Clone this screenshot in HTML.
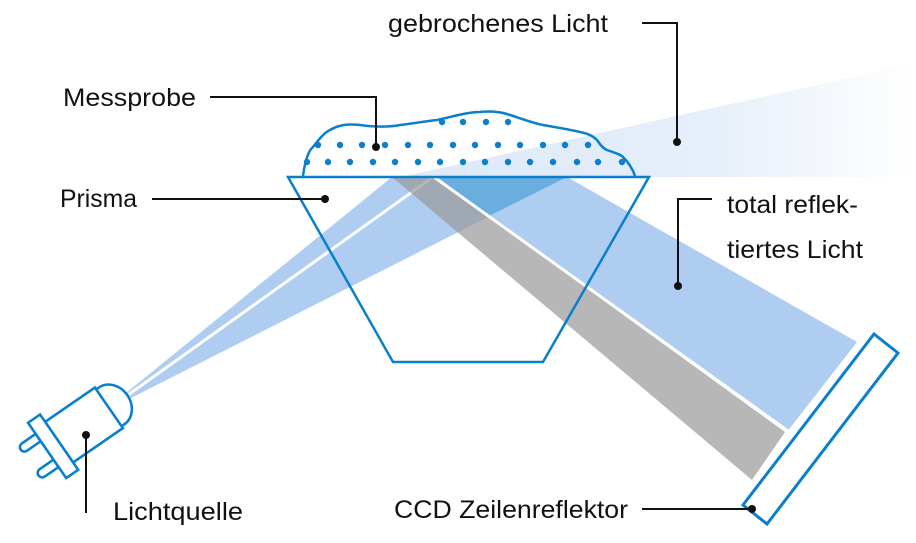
<!DOCTYPE html>
<html><head><meta charset="utf-8"><style>
html,body{margin:0;padding:0;background:#fff;}
svg{display:block;}
text{font-family:"Liberation Sans",sans-serif;font-size:25px;fill:#111;}
</style></head><body>
<svg width="916" height="543" viewBox="0 0 916 543" xmlns="http://www.w3.org/2000/svg">
<defs>
<linearGradient id="pale" x1="401" y1="0" x2="916" y2="0" gradientUnits="userSpaceOnUse">
<stop offset="0" stop-color="#dce9f8"/><stop offset="0.6" stop-color="#e6effa"/><stop offset="1" stop-color="#ffffff"/>
</linearGradient>
</defs>
<polygon points="401,177 916,63 916,177" fill="url(#pale)"/>
<polygon points="126,393 392,177 567,177 131,398" fill="#aecdf0"/>
<polygon points="435,177 567,177 857,342 787,432" fill="#aecdf0"/>
<polygon points="435,177 567,177 489,216" fill="#6aaee0"/>
<line x1="128" y1="395" x2="433" y2="177" stroke="#fff" stroke-width="3"/>
<polygon points="392,177 433,177 785,432 752,480" fill="#999" fill-opacity="0.7"/>
<line x1="434" y1="177" x2="788" y2="431" stroke="#fff" stroke-width="3"/>
<polygon points="288,177 649,177 543,362 393,362" fill="none" stroke="#0a7fcc" stroke-width="2.5"/>
<path d="M303,176 C305,160 309,150 313,147 C320,138 325,132 330,130 C340,124 350,124 360,125 C375,127 390,127 400,125 C415,123 428,121 437,120 C455,116 468,112 480,112 C490,111 500,112 507,114 C520,118 532,123 543,125 C560,128 572,130 580,132 C590,134 594,137 597,140 C601,146 604,149 607,150 C615,153 620,154 623,157 C630,164 633,170 635,176" fill="none" stroke="#0a7fcc" stroke-width="2.5"/>
<g fill="#0a7fcc">
<circle cx="442" cy="122" r="3.2"/><circle cx="463" cy="122" r="3.2"/><circle cx="486" cy="122" r="3.2"/><circle cx="508" cy="122" r="3.2"/>
<circle cx="318" cy="145" r="3.2"/><circle cx="340" cy="145" r="3.2"/><circle cx="362" cy="145" r="3.2"/><circle cx="385" cy="145" r="3.2"/><circle cx="408" cy="145" r="3.2"/><circle cx="430" cy="145" r="3.2"/><circle cx="453" cy="145" r="3.2"/><circle cx="475" cy="145" r="3.2"/><circle cx="498" cy="145" r="3.2"/><circle cx="520" cy="145" r="3.2"/><circle cx="543" cy="145" r="3.2"/><circle cx="565" cy="145" r="3.2"/><circle cx="588" cy="145" r="3.2"/>
<circle cx="307" cy="162" r="3.2"/><circle cx="328" cy="162" r="3.2"/><circle cx="350" cy="162" r="3.2"/><circle cx="373" cy="162" r="3.2"/><circle cx="395" cy="162" r="3.2"/><circle cx="418" cy="162" r="3.2"/><circle cx="440" cy="162" r="3.2"/><circle cx="463" cy="162" r="3.2"/><circle cx="485" cy="162" r="3.2"/><circle cx="508" cy="162" r="3.2"/><circle cx="530" cy="162" r="3.2"/><circle cx="553" cy="162" r="3.2"/><circle cx="577" cy="162" r="3.2"/><circle cx="598" cy="162" r="3.2"/><circle cx="622" cy="162" r="3.2"/>
</g>
<polygon points="874,334 898,353 767,524 743,505" fill="#fff" stroke="#0a7fcc" stroke-width="3"/>
<g transform="translate(84,425) rotate(-34.6) scale(1.12)" fill="#fff" stroke="#0a7fcc" stroke-width="2.3">
<path d="M-40,-18 L-55,-18 A4,4 0 0 0 -55,-10 L-40,-10 Z"/>
<path d="M-40,10 L-55,10 A4,4 0 0 0 -55,18 L-40,18 Z"/>
<path d="M27,-20 L30,-20 A17,20 0 0 1 30,20 L27,20"/>
<rect x="-27" y="-22" width="54" height="44"/>
<rect x="-40" y="-30" width="13" height="60"/>
</g>
<g stroke="#111" stroke-width="2" fill="none">
<polyline points="642,23 677,23 677,142"/>
<polyline points="210,97 376,97 376,147"/>
<polyline points="152,199 325,199"/>
<polyline points="712,199 678,199 678,286"/>
<polyline points="86,435 86,513"/>
<polyline points="642,509 752,509"/>
</g>
<g fill="#111">
<circle cx="677" cy="142" r="4"/><circle cx="376" cy="147" r="4"/><circle cx="325" cy="199" r="4"/><circle cx="678" cy="286" r="4"/><circle cx="86" cy="435" r="4"/><circle cx="752" cy="509" r="4"/>
</g>
<text x="388" y="32" textLength="220" lengthAdjust="spacingAndGlyphs">gebrochenes Licht</text>
<text x="63" y="106" textLength="133" lengthAdjust="spacingAndGlyphs">Messprobe</text>
<text x="60" y="207" textLength="77" lengthAdjust="spacingAndGlyphs">Prisma</text>
<text x="727" y="213" textLength="131" lengthAdjust="spacingAndGlyphs">total reflek-</text>
<text x="727" y="258" textLength="136" lengthAdjust="spacingAndGlyphs">tiertes Licht</text>
<text x="113" y="520" textLength="130" lengthAdjust="spacingAndGlyphs">Lichtquelle</text>
<text x="394" y="518" textLength="234" lengthAdjust="spacingAndGlyphs">CCD Zeilenreflektor</text>
</svg>
</body></html>
